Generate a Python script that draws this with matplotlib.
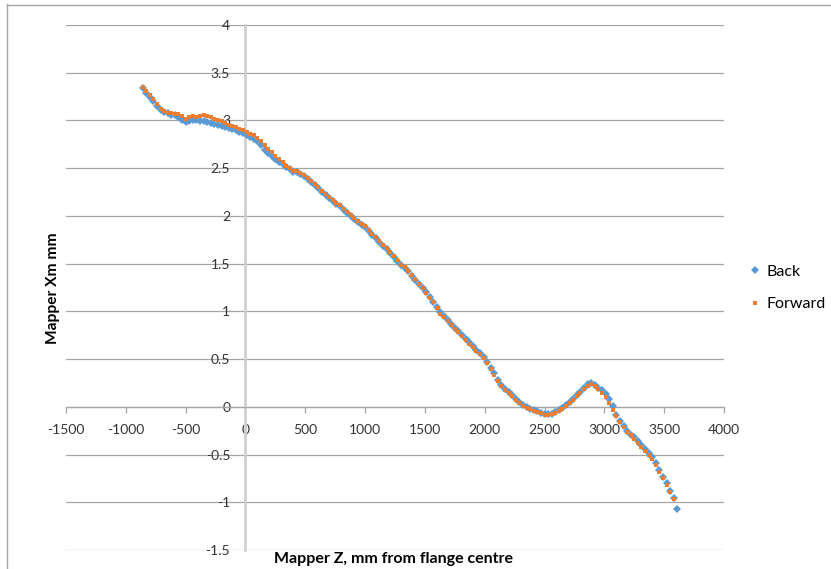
import matplotlib
matplotlib.use("Agg")
import matplotlib.pyplot as plt
from matplotlib.lines import Line2D

plt.rcParams['font.family'] = ['Lato', 'DejaVu Sans']
plt.rcParams['axes.unicode_minus'] = False

# ---- data ----
z_mm = [-860, -830, -800, -770, -740, -710, -680, -650, -620, -590,
        -560, -530, -500, -470, -440, -410, -380, -350, -320, -290,
        -260, -230, -200, -170, -140, -110, -80, -50, -20, 10,
        40, 70, 100, 130, 160, 190, 220, 250, 280, 310,
        340, 370, 400, 430, 460, 490, 520, 550, 580, 610,
        640, 670, 700, 730, 760, 790, 820, 850, 880, 910,
        940, 970, 1000, 1030, 1060, 1090, 1120, 1150, 1180, 1210,
        1240, 1270, 1300, 1330, 1360, 1390, 1420, 1450, 1480, 1510,
        1540, 1570, 1600, 1630, 1660, 1690, 1720, 1750, 1780, 1810,
        1840, 1870, 1900, 1930, 1960, 1990, 2020, 2050, 2080, 2110,
        2140, 2170, 2200, 2230, 2260, 2290, 2320, 2350, 2380, 2410,
        2440, 2470, 2500, 2530, 2560, 2590, 2620, 2650, 2680, 2710,
        2740, 2770, 2800, 2830, 2860, 2890, 2920, 2950, 2980, 3010,
        3040, 3070, 3100, 3130, 3160, 3190, 3220, 3250, 3280, 3310,
        3340, 3370, 3400, 3430, 3460, 3490, 3520, 3550, 3580, 3610]

back_xm = [3.34, 3.29, 3.25, 3.20, 3.15, 3.11, 3.09, 3.08, 3.06, 3.06,
           3.04, 3.00, 2.98, 2.99, 3.00, 3.00, 2.99, 2.99, 2.98, 2.97,
           2.96, 2.95, 2.94, 2.93, 2.92, 2.91, 2.90, 2.88, 2.87, 2.85,
           2.83, 2.81, 2.78, 2.74, 2.69, 2.66, 2.63, 2.60, 2.57, 2.54,
           2.51, 2.49, 2.46, 2.46, 2.44, 2.42, 2.39, 2.36, 2.32, 2.29,
           2.25, 2.22, 2.19, 2.16, 2.13, 2.10, 2.06, 2.03, 2.00, 1.97,
           1.94, 1.91, 1.88, 1.84, 1.80, 1.77, 1.73, 1.69, 1.65, 1.61,
           1.57, 1.53, 1.49, 1.45, 1.42, 1.37, 1.33, 1.29, 1.25, 1.20,
           1.15, 1.10, 1.05, 0.99, 0.95, 0.91, 0.87, 0.83, 0.79, 0.75,
           0.71, 0.68, 0.64, 0.60, 0.56, 0.52, 0.47, 0.41, 0.35, 0.28,
           0.23, 0.19, 0.16, 0.12, 0.08, 0.05, 0.02, 0.00, -0.02, -0.03,
           -0.04, -0.06, -0.08, -0.08, -0.07, -0.05, -0.03, -0.01, 0.02, 0.05,
           0.08, 0.12, 0.16, 0.20, 0.24, 0.25, 0.23, 0.20, 0.18, 0.13,
           0.08, 0.01, -0.09, -0.15, -0.20, -0.25, -0.29, -0.32, -0.36, -0.40,
           -0.44, -0.48, -0.53, -0.59, -0.66, -0.73, -0.80, -0.88, -0.96, -1.07]

forward_xm = [3.35, 3.31, 3.27, 3.22, 3.17, 3.12, 3.10, 3.08, 3.08, 3.07,
              3.07, 3.05, 3.02, 3.04, 3.05, 3.04, 3.05, 3.06, 3.05, 3.04,
              3.02, 3.00, 2.99, 2.97, 2.95, 2.94, 2.93, 2.91, 2.90, 2.88,
              2.86, 2.85, 2.82, 2.78, 2.74, 2.70, 2.67, 2.63, 2.60, 2.56,
              2.52, 2.50, 2.47, 2.47, 2.45, 2.43, 2.40, 2.37, 2.33, 2.30,
              2.26, 2.23, 2.20, 2.17, 2.14, 2.11, 2.07, 2.04, 2.01, 1.98,
              1.95, 1.92, 1.89, 1.85, 1.81, 1.78, 1.74, 1.70, 1.66, 1.62,
              1.58, 1.54, 1.49, 1.46, 1.42, 1.38, 1.34, 1.29, 1.24, 1.19,
              1.14, 1.10, 1.04, 0.97, 0.94, 0.90, 0.86, 0.82, 0.78, 0.74,
              0.70, 0.66, 0.63, 0.59, 0.55, 0.51, 0.46, 0.40, 0.33, 0.27,
              0.22, 0.18, 0.14, 0.11, 0.07, 0.04, 0.01, -0.01, -0.02, -0.04,
              -0.05, -0.06, -0.09, -0.09, -0.07, -0.06, -0.04, -0.02, 0.01, 0.04,
              0.07, 0.11, 0.15, 0.19, 0.22, 0.24, 0.22, 0.19, 0.15, 0.10,
              0.04, -0.03, -0.10, -0.16, -0.21, -0.26, -0.30, -0.34, -0.38, -0.42,
              -0.46, -0.50, -0.55, -0.61, -0.68, -0.75, -0.82, -0.89, -0.97]

series_names = ["Back", "Forward"]
x_ticks = [-1500, -1000, -500, 0, 500, 1000, 1500, 2000, 2500, 3000, 3500, 4000]
x_tick_labels = ["-1500", "-1000", "-500", "0", "500", "1000", "1500", "2000",
                 "2500", "3000", "3500", "4000"]
y_ticks = [-1.5, -1.0, -0.5, 0.0, 0.5, 1.0, 1.5, 2.0, 2.5, 3.0, 3.5, 4.0]
y_tick_labels = ["-1.5", "-1", "-0.5", "0", "0.5", "1", "1.5", "2", "2.5", "3", "3.5", "4"]

# ---- figure ----
W, H = 831, 569
fig = plt.figure(figsize=(W / 100, H / 100), dpi=100)
ax = fig.add_axes([66 / W, 1 - 550 / H, (724 - 66) / W, (550 - 25) / H])

blue = '#5B9BD5'
orange = '#ED7D31'
ax.plot(z_mm, back_xm, linestyle='none', marker='D', markersize=3.8,
        markeredgewidth=0, color=blue, label=series_names[0], zorder=3)
ax.plot(z_mm[:len(forward_xm)], forward_xm, linestyle='none', marker='s',
        markersize=3.1, markeredgewidth=0, color=orange, label=series_names[1], zorder=4)

ax.set_xlim(-1500, 4000)
ax.set_ylim(-1.5, 4)
ax.set_xticks(x_ticks)
ax.set_xticklabels(x_tick_labels)
ax.set_yticks(y_ticks)
ax.set_yticklabels(y_tick_labels)

ax.set_axisbelow(True)
ax.yaxis.grid(True, color='#a6a6a6', linewidth=0.9)
ax.xaxis.grid(False)

for s in ['top', 'right']:
    ax.spines[s].set_visible(False)
ax.spines['left'].set_position(('data', 0))
ax.spines['left'].set_color('#d0d0d0')
ax.spines['left'].set_linewidth(2.0)
ax.spines['bottom'].set_position(('data', 0))
ax.spines['bottom'].set_color('#a6a6a6')
ax.spines['bottom'].set_linewidth(0.9)

ax.tick_params(axis='x', direction='out', length=4.5, width=0.9, color='#a6a6a6',
               labelsize=10, labelcolor='#333333', pad=8)
ax.tick_params(axis='y', length=0, labelsize=10, labelcolor='#333333', pad=11)

ax.patch.set_alpha(0)

# axis titles
fig.text(394 / W, 1 - 559 / H, "Mapper Z, mm from flange centre", ha='center', va='center',
         fontsize=11.5, fontweight='bold', color='black')
fig.text(53 / W, 1 - 288 / H, "Mapper Xm mm", ha='center', va='center', rotation=90,
         fontsize=11.2, fontweight='bold', color='black')

# legend
ax.legend(loc='center left', bbox_to_anchor=(751 / W, 1 - 288 / H), bbox_transform=fig.transFigure,
          frameon=False, fontsize=11.5, handlelength=0.5, handletextpad=0.45,
          labelspacing=1.15, markerscale=1.1, borderaxespad=0, borderpad=0)

# chart border (left and top visible)
fig.add_artist(Line2D([6.5 / W, 6.5 / W], [0, 1 - 4 / H], transform=fig.transFigure,
                      color='#a6a6a6', linewidth=1))
fig.add_artist(Line2D([6.5 / W, 1], [1 - 4.5 / H, 1 - 4.5 / H], transform=fig.transFigure,
                      color='#a6a6a6', linewidth=1))

fig.savefig('out.png', dpi=100)
